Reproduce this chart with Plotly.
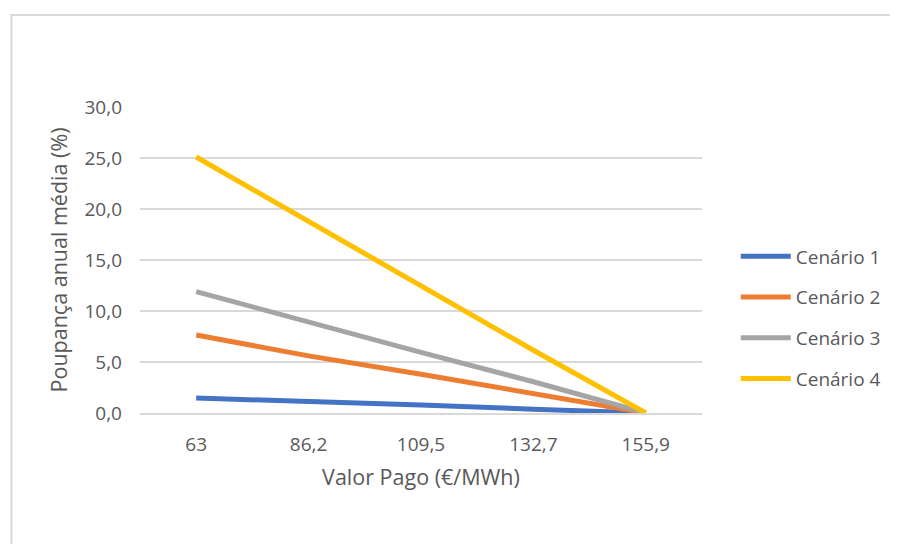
import plotly.graph_objects as go

categories = ["63", "86,2", "109,5", "132,7", "155,9"]
cenario1 = [1.47, 1.15, 0.78, 0.37, 0.0]
cenario2 = [7.65, 5.6, 3.8, 1.86, 0.0]
cenario3 = [11.9, 8.9, 5.95, 3.06, 0.0]
cenario4 = [25.1, 18.8, 12.45, 6.15, 0.0]
series_names = ["Cenário 1", "Cenário 2", "Cenário 3", "Cenário 4"]
series_values = [cenario1, cenario2, cenario3, cenario4]
colors = ["#4472C4", "#ED7D31", "#A5A5A5", "#FFC000"]
y_ticks = [0, 5, 10, 15, 20, 25, 30]
y_tick_labels = ["0,0", "5,0", "10,0", "15,0", "20,0", "25,0", "30,0"]

# page has an 8px body margin, so the figure is offset accordingly
W, H = 890, 536
L, R, T, B = 132, 698, 99, 405

FONT = "Open Sans"
GREY = "#595959"

fig = go.Figure()
for name, vals, col in zip(series_names, series_values, colors):
    fig.add_trace(go.Scatter(
        x=categories, y=vals, name=name, mode="lines",
        line=dict(color=col, width=5), legendgroup=name,
    ))

def px_to_paper_x(px):
    return (px - L) / (R - L)

def px_to_paper_y(py):
    return (B - py) / (B - T)

fig.update_layout(
    width=W, height=H,
    margin=dict(l=L, r=W - R, t=T, b=H - B, pad=0),
    paper_bgcolor="white", plot_bgcolor="white",
    font=dict(family=FONT, size=19, color=GREY),
    showlegend=True,
    legend=dict(
        x=px_to_paper_x(732), xanchor="left",
        y=px_to_paper_y(309.5), yanchor="middle",
        font=dict(family=FONT, size=19, color=GREY),
        traceorder="grouped", tracegroupgap=13,
        bgcolor="rgba(0,0,0,0)", itemwidth=50,
    ),
    xaxis=dict(
        type="category", range=[-0.5, 4.5],
        showgrid=False, zeroline=False,
        showline=True, linecolor="#D9D9D9", linewidth=1.5,
        ticks="", ticklabelstandoff=13,
        tickfont=dict(family=FONT, size=19, color=GREY),
        title=dict(text="Valor Pago (€/MWh)", standoff=14,
                   font=dict(family=FONT, size=21.5, color=GREY)),
    ),
    yaxis=dict(
        range=[0, 30], tickvals=y_ticks, ticktext=y_tick_labels,
        showgrid=True, gridcolor="#D9D9D9", gridwidth=1.5,
        zeroline=False, showline=False, ticks="",
        ticklabelstandoff=17,
        tickfont=dict(family=FONT, size=19, color=GREY),
        title=dict(text="Poupança anual média (%)", standoff=10,
                   font=dict(family=FONT, size=21.5, color=GREY)),
    ),
    shapes=[
        dict(type="line", xref="paper", yref="paper",
             x0=px_to_paper_x(2.5), x1=px_to_paper_x(2.5),
             y0=px_to_paper_y(H + 20), y1=px_to_paper_y(6),
             line=dict(color="#D9D9D9", width=2), layer="below"),
        dict(type="line", xref="paper", yref="paper",
             x0=px_to_paper_x(1.5), x1=px_to_paper_x(W + 20),
             y0=px_to_paper_y(7), y1=px_to_paper_y(7),
             line=dict(color="#D9D9D9", width=2), layer="below"),
    ],
)

fig.write_html("out.html")
